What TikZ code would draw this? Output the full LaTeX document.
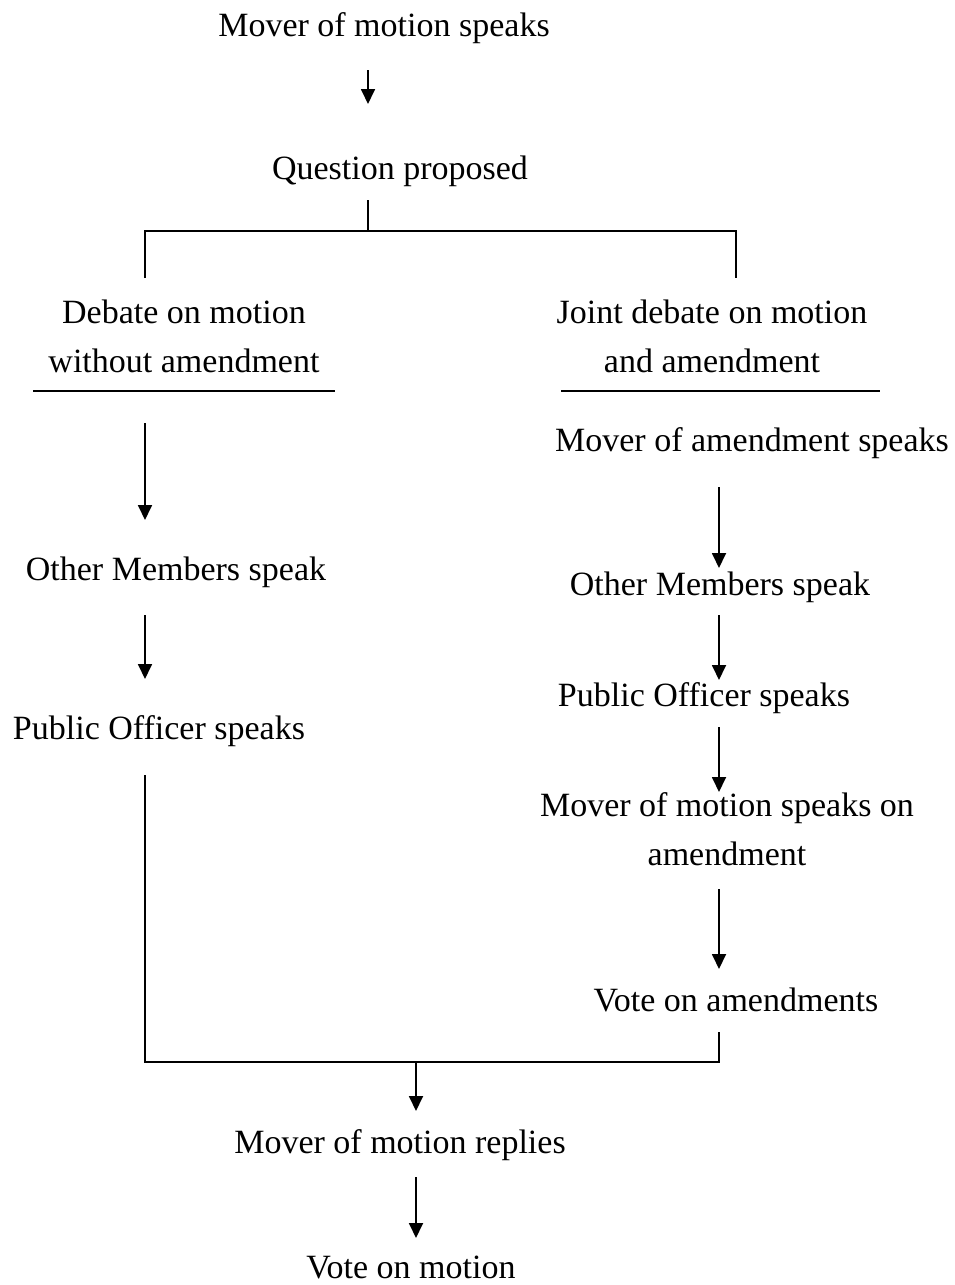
\documentclass[tikz,border=0pt]{standalone}
\usepackage{fontspec}
\setmainfont{Liberation Serif}
\usetikzlibrary{arrows.meta}
\begin{document}
\begin{tikzpicture}[x=1pt,y=-1pt,
  lbl/.style={anchor=base,inner sep=0pt,font=\fontsize{34}{49}\selectfont,align=center},
  arr/.style={line width=1.8pt,-{Triangle[width=14pt,length=15pt]}},
  ln/.style={line width=2pt}]
\useasboundingbox (0,0) rectangle (955,1285);
% nodes (multi-line nodes: base = baseline of last line)
\node[lbl] (mms) at (384,36) {Mover of motion speaks};
\node[lbl] (qp) at (400,179) {Question proposed};
\node[lbl] (dbl) at (184,372) {Debate on motion\\without amendment};
\node[lbl] (jdb) at (712,372) {Joint debate on motion\\and amendment};
\node[lbl] (oml) at (176,580) {Other Members speak};
\node[lbl] (pol) at (159,739) {Public Officer speaks};
\node[lbl] (mas) at (752,451) {Mover of amendment speaks};
\node[lbl] (omr) at (720,595) {Other Members speak};
\node[lbl] (por) at (704,706) {Public Officer speaks};
\node[lbl] (mmsa) at (727,865) {Mover of motion speaks on\\amendment};
\node[lbl] (voa) at (736,1011) {Vote on amendments};
\node[lbl] (mmr) at (400,1153) {Mover of motion replies};
\node[lbl] (vom) at (411,1278) {Vote on motion};
% coordinates
\coordinate (a1s) at (368,70);  \coordinate (a1e) at (368,104);
\coordinate (q1) at (368,200);  \coordinate (q2) at (368,231);
\coordinate (bl) at (145,231);  \coordinate (blb) at (145,278);
\coordinate (br) at (736,231);  \coordinate (brb) at (736,278);
\coordinate (ul1) at (33,391);  \coordinate (ul2) at (335,391);
\coordinate (ur1) at (561,391); \coordinate (ur2) at (880,391);
\coordinate (l1s) at (145,423); \coordinate (l1e) at (145,520);
\coordinate (l2s) at (145,615); \coordinate (l2e) at (145,679);
\coordinate (l3s) at (145,775); \coordinate (l3c) at (145,1062);
\coordinate (r1s) at (719,487); \coordinate (r1e) at (719,568);
\coordinate (r2s) at (719,615); \coordinate (r2e) at (719,680);
\coordinate (r3s) at (719,727); \coordinate (r3e) at (719,792);
\coordinate (r4s) at (719,889); \coordinate (r4e) at (719,969);
\coordinate (r5s) at (719,1032); \coordinate (r5c) at (719,1062);
\coordinate (m1s) at (416,1062); \coordinate (m1e) at (416,1111);
\coordinate (m2s) at (416,1177); \coordinate (m2e) at (416,1238);
% connectors
\draw[arr] (a1s) -- (a1e);
\draw[ln] (q1) -- (q2);
\draw[ln] (blb) -- (bl) -- (br) -- (brb);
\draw[ln] (ul1) -- (ul2);
\draw[ln] (ur1) -- (ur2);
\draw[arr] (l1s) -- (l1e);
\draw[arr] (l2s) -- (l2e);
\draw[ln] (l3s) -- (l3c) -- (r5c) -- (r5s);
\draw[arr] (r1s) -- (r1e);
\draw[arr] (r2s) -- (r2e);
\draw[arr] (r3s) -- (r3e);
\draw[arr] (r4s) -- (r4e);
\draw[arr] (m1s) -- (m1e);
\draw[arr] (m2s) -- (m2e);
\end{tikzpicture}
\end{document}
